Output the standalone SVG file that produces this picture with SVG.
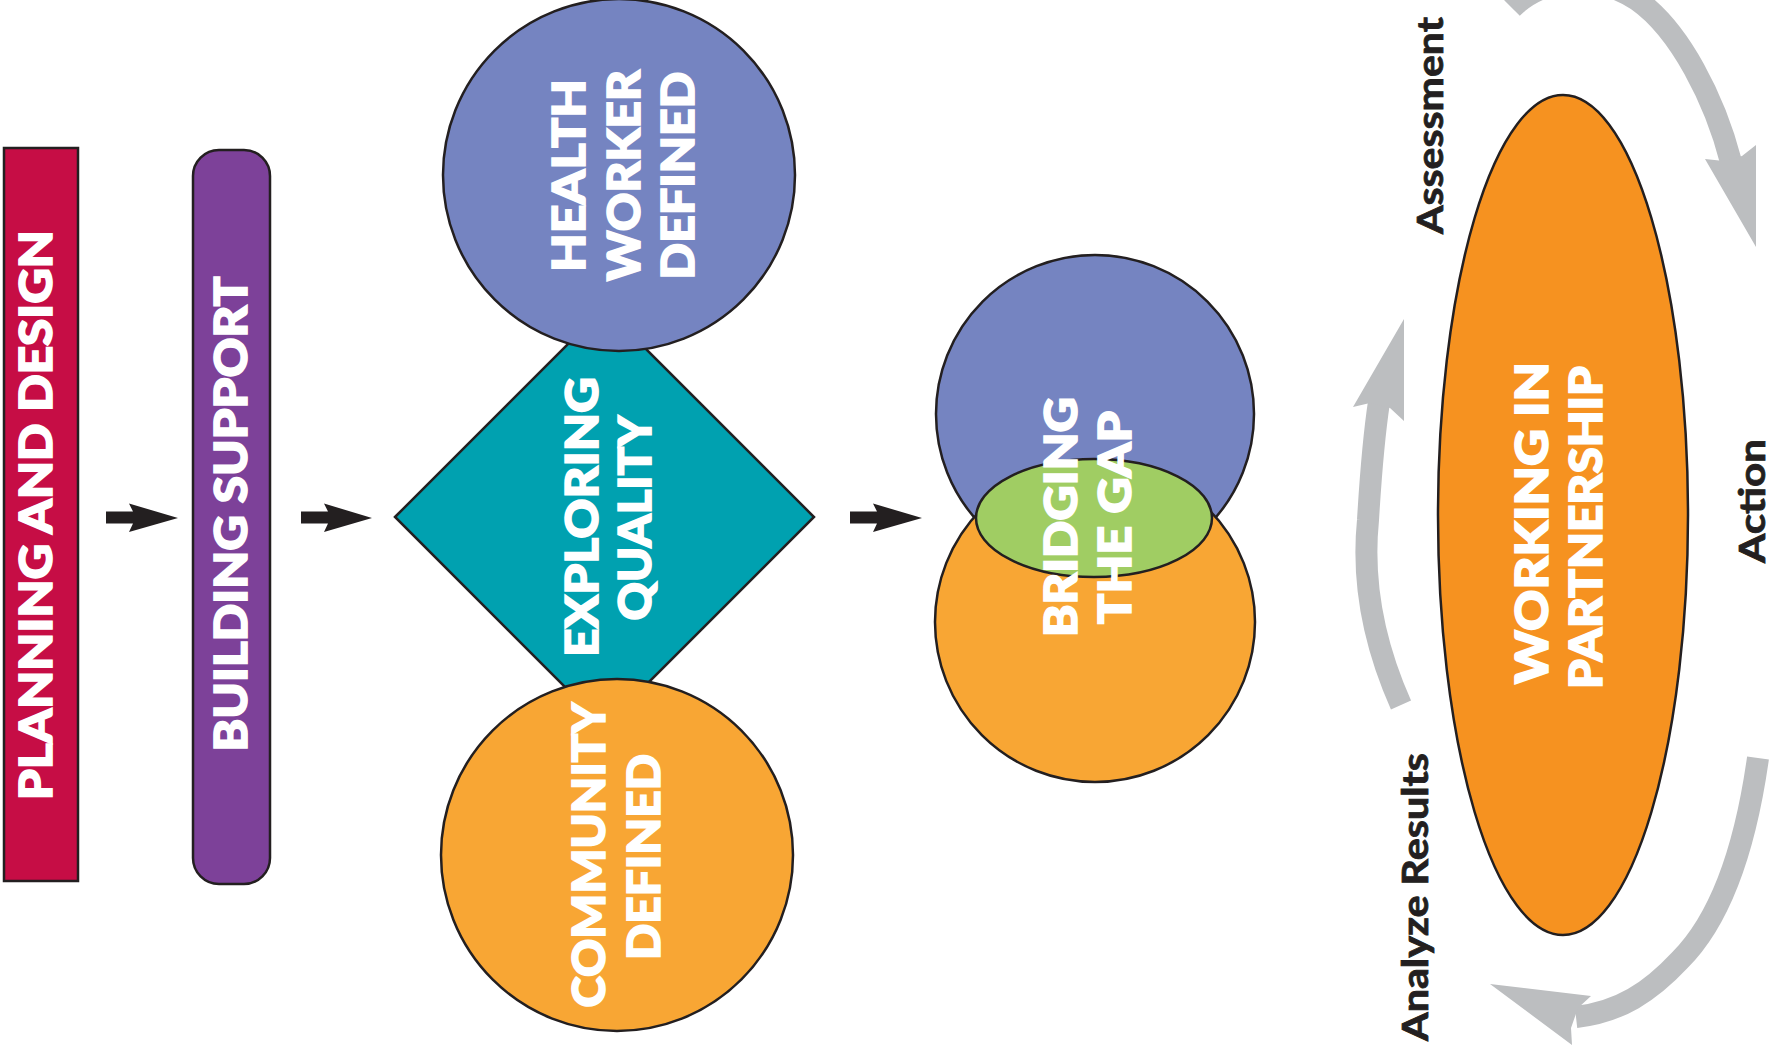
<svg xmlns="http://www.w3.org/2000/svg" width="1775" height="1045" viewBox="0 0 1775 1045">
<style>
.sh{stroke:#231f20;stroke-width:2.5}
.wt{fill:#ffffff;stroke:#ffffff;stroke-width:1.6;font-family:"Lato","Open Sans",sans-serif;font-weight:900;font-size:45px;text-anchor:middle}
.bt{fill:#231f20;stroke:#231f20;stroke-width:0.8;font-family:"Liberation Sans Narrow","Lato",sans-serif;font-weight:700;font-size:36px;text-anchor:middle}
.ga{fill:none;stroke:#bcbec0;stroke-width:22;stroke-linecap:butt}
.gh{fill:#bcbec0}
.ba{fill:#231f20}
</style>
<rect width="1775" height="1045" fill="#ffffff"/>
<g id="planning">
<rect class="sh" x="4" y="148" width="74" height="733" fill="#c60d45"/>
<text class="wt" transform="translate(52,515) rotate(-90)" textLength="570" lengthAdjust="spacingAndGlyphs">PLANNING AND DESIGN</text>
</g>
<g id="building">
<rect class="sh" x="193" y="150" width="77" height="734" rx="26" ry="26" fill="#7d4199"/>
<text class="wt" transform="translate(247,514) rotate(-90)" textLength="475" lengthAdjust="spacingAndGlyphs">BUILDING SUPPORT</text>
</g>
<g id="exploring">
<polygon class="sh" points="395,517 604.5,307.5 814,517 604.5,726.5" fill="#00a1b0"/>
<text class="wt" transform="translate(598,517) rotate(-90)" textLength="280" lengthAdjust="spacingAndGlyphs">EXPLORING</text>
<text class="wt" transform="translate(651,518) rotate(-90)" textLength="205" lengthAdjust="spacingAndGlyphs">QUALITY</text>
</g>
<g id="health">
<circle class="sh" cx="619" cy="175" r="176" fill="#7584c1"/>
<text class="wt" transform="translate(585,175.5) rotate(-90)" textLength="193" lengthAdjust="spacingAndGlyphs">HEALTH</text>
<text class="wt" transform="translate(640,175.5) rotate(-90)" textLength="211" lengthAdjust="spacingAndGlyphs">WORKER</text>
<text class="wt" transform="translate(694,175.5) rotate(-90)" textLength="208" lengthAdjust="spacingAndGlyphs">DEFINED</text>
</g>
<g id="community">
<circle class="sh" cx="617" cy="855" r="176" fill="#f8a634"/>
<text class="wt" transform="translate(605,855) rotate(-90)" textLength="305" lengthAdjust="spacingAndGlyphs">COMMUNITY</text>
<text class="wt" transform="translate(660,857) rotate(-90)" textLength="206" lengthAdjust="spacingAndGlyphs">DEFINED</text>
</g>
<g id="bridging">
<circle class="sh" cx="1095" cy="414" r="159" fill="#7584c1"/>
<circle class="sh" cx="1095" cy="622" r="160" fill="#f8a634"/>
<ellipse class="sh" cx="1094" cy="518" rx="118" ry="59" fill="#a0cd63"/>
<text class="wt" transform="translate(1077,517) rotate(-90)" textLength="240" lengthAdjust="spacingAndGlyphs">BRIDGING</text>
<text class="wt" transform="translate(1131,517.5) rotate(-90)" textLength="213" lengthAdjust="spacingAndGlyphs">THE GAP</text>
</g>
<g id="partnership">
<ellipse class="sh" cx="1563" cy="515" rx="125" ry="420" fill="#f69220"/>
<text class="wt" transform="translate(1548,523) rotate(-90)" textLength="322" lengthAdjust="spacingAndGlyphs">WORKING IN</text>
<text class="wt" transform="translate(1602,527.5) rotate(-90)" textLength="323" lengthAdjust="spacingAndGlyphs">PARTNERSHIP</text>
</g>
<g id="label-assessment"><text class="bt" transform="translate(1443,125.5) rotate(-90)" textLength="217" lengthAdjust="spacingAndGlyphs">Assessment</text></g>
<g id="label-action"><text class="bt" transform="translate(1765,501) rotate(-90)" textLength="124" lengthAdjust="spacingAndGlyphs">Action</text></g>
<g id="label-analyze"><text class="bt" transform="translate(1428,897) rotate(-90)" textLength="288" lengthAdjust="spacingAndGlyphs">Analyze Results</text></g>
<g id="connectors">
<polygon class="ba" points="106,511.5 133,511.5 129,503.5 178,518 129,532 133,523.5 106,523.5"/>
<polygon class="ba" points="301,511.5 328,511.5 324,503.5 372,518 324,532 328,523.5 301,523.5"/>
<polygon class="ba" points="850,511.5 877,511.5 873,503.5 922,518 873,532 877,523.5 850,523.5"/>
<path class="ga" d="M1512,8 C1545,-25 1600,-25 1637,0 C1680,30 1715,100 1731,162"/>
<polygon class="gh" points="1705,159 1724,161 1742,156 1756,145 1756,247"/>
<path class="ga" d="M1401,705 C1372,640 1362,580 1368,520 C1371,470 1374,435 1379,402"/>
<polygon class="gh" points="1353,407 1370,403 1390,408 1404,421 1404,319"/>
<path class="ga" d="M1758,758 C1745,850 1720,920 1680,960 C1650,992 1620,1012 1576,1017"/>
<polygon class="gh" points="1490,984 1591,996 1578,1008 1571,1028 1572,1045"/>
</g>
</svg>
